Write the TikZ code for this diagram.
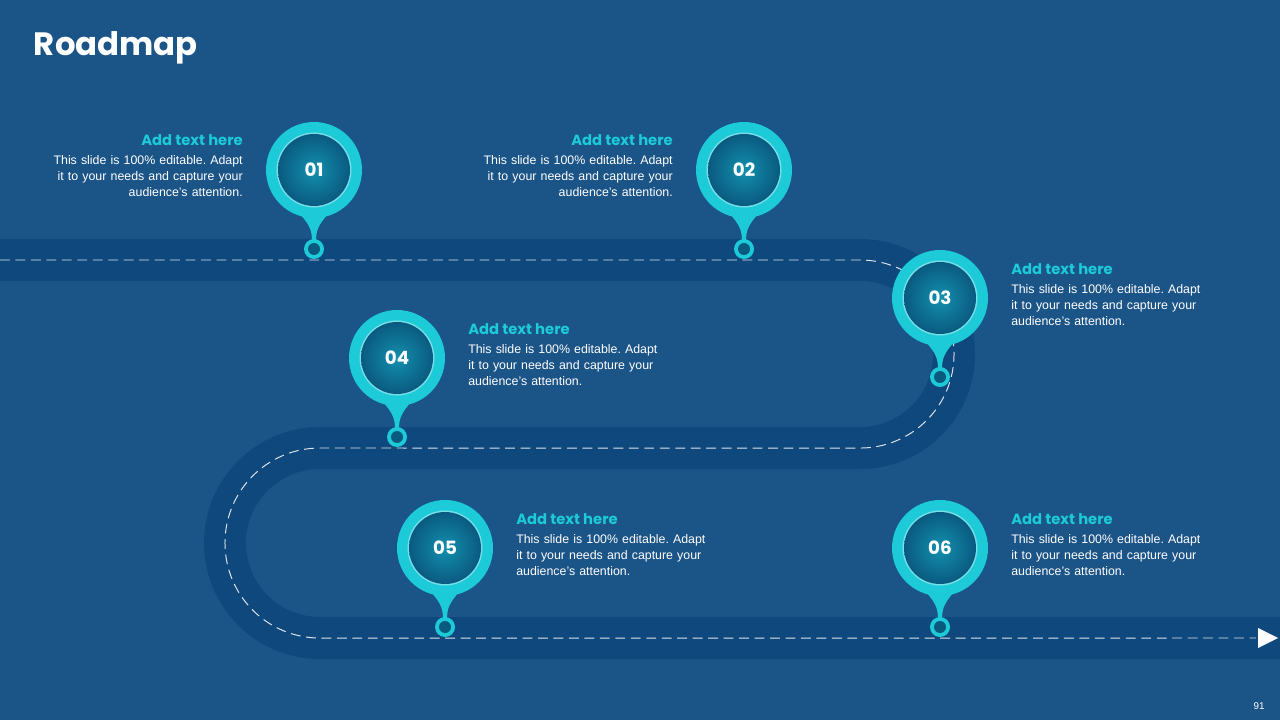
\documentclass[tikz,border=0pt]{standalone}
\usepackage{fontspec}
\setmainfont{Liberation Sans}
\newfontfamily\headfont{Poppins}
\usetikzlibrary{arrows.meta, positioning}
\frenchspacing
\definecolor{slidebg}{HTML}{1B5487}
\definecolor{roadblue}{HTML}{0F487C}
\definecolor{pincyan}{HTML}{1CCAD8}
\definecolor{pindark}{HTML}{0A5A80}
\definecolor{pinmid}{HTML}{1390AE}
\tikzset{%
	road/.style={line width=42*0.025cm, roadblue},
	lane/.style={white!85!slidebg, dashed, dash pattern=on 7pt off 4pt, line width=0.7pt},
	head text/.style={font=\headfont\bfseries\fontsize{10.5}{12}\selectfont, text=pincyan, inner sep=0pt},
	body text/.style={font=\fontsize{8.8}{11.4}\selectfont, text=white, inner sep=0pt, text width=5.2cm},
	pin number/.style={font=\headfont\bfseries\fontsize{13}{14}\selectfont, text=white},
}
% pin: name, x, y, number
\newcommand{\roadpin}[4]{%
	\fill[pincyan] (#2-15,#3+43) .. controls (#2-3,#3+56) and (#2-2,#3+62) .. (#2-2,#3+72)
		-- (#2+2,#3+72) .. controls (#2+2,#3+62) and (#2+3,#3+56) .. (#2+15,#3+43) -- cycle;
	\fill[pincyan] (#2,#3) circle[radius=48];
	\fill[white!40!pincyan] (#2,#3) circle[radius=37.5];
	\shade[inner color=pinmid, outer color=pindark] (#2,#3) circle[radius=36];
	\node[pin number] (#1) at (#2,#3) {#4};
	\fill[pincyan] (#2,#3+79) circle[radius=10];
	\fill[pindark] (#2,#3+79) circle[radius=6];
}
\begin{document}
\begin{tikzpicture}[x=0.025cm, y=-0.025cm]
	\useasboundingbox (0,0) rectangle (1280,720);
	\fill[slidebg] (0,0) rectangle (1280,720);

	% road
	\draw[road] (0,260) -- (860,260) arc[start angle=90, end angle=-90, radius=2.35cm]
		-- (320,448) arc[start angle=90, end angle=270, radius=2.375cm] -- (1280,638);
	\draw[lane] (0,260) -- (860,260) arc[start angle=90, end angle=-90, radius=2.35cm]
		-- (320,448) arc[start angle=90, end angle=270, radius=2.375cm] -- (1256,638);
	\fill[white] (1258,628) -- (1278,638) -- (1258,648) -- cycle;

	% title
	\node[anchor=west, text=white, font=\headfont\bfseries\fontsize{23}{25}\selectfont] (title) at (29,48) {Roadmap};
	\node[text=white, font=\fontsize{7}{8}\selectfont] (pageno) at (1259,706) {91};

	% pins
	\roadpin{p1}{314}{170}{01}
	\roadpin{p2}{744}{170}{02}
	\roadpin{p3}{940}{298}{03}
	\roadpin{p4}{397}{358}{04}
	\roadpin{p5}{445}{548}{05}
	\roadpin{p6}{940}{548}{06}

	% texts
	\node[head text, anchor=east] (h1) at (243,140) {Add text here};
	\node[body text, align=right, anchor=north east] (t1) at (243,155) {This slide is 100\% editable. Adapt\\it to your needs and capture your\\audience's attention.};
	\node[head text, anchor=east] (h2) at (673,140) {Add text here};
	\node[body text, align=right, anchor=north east] (t2) at (673,155) {This slide is 100\% editable. Adapt\\it to your needs and capture your\\audience's attention.};
	\node[head text, anchor=west] (h3) at (1011,269) {Add text here};
	\node[body text, align=left, anchor=north west] (t3) at (1011,284) {This slide is 100\% editable. Adapt\\it to your needs and capture your\\audience's attention.};
	\node[head text, anchor=west] (h4) at (468,329) {Add text here};
	\node[body text, align=left, anchor=north west] (t4) at (468,344) {This slide is 100\% editable. Adapt\\it to your needs and capture your\\audience's attention.};
	\node[head text, anchor=west] (h5) at (516,519) {Add text here};
	\node[body text, align=left, anchor=north west] (t5) at (516,534) {This slide is 100\% editable. Adapt\\it to your needs and capture your\\audience's attention.};
	\node[head text, anchor=west] (h6) at (1011,519) {Add text here};
	\node[body text, align=left, anchor=north west] (t6) at (1011,534) {This slide is 100\% editable. Adapt\\it to your needs and capture your\\audience's attention.};
\end{tikzpicture}
\end{document}
